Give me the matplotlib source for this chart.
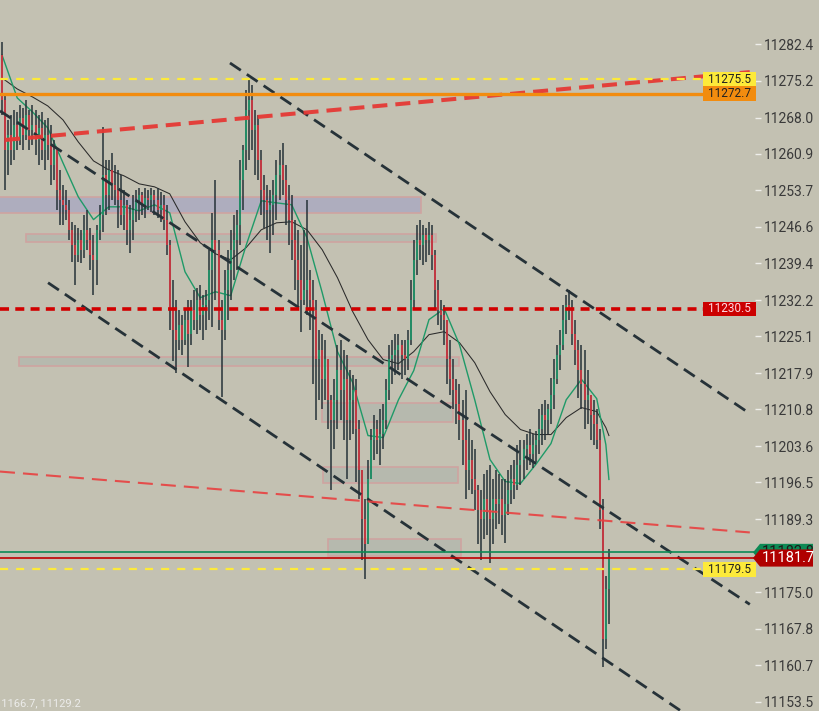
import matplotlib
matplotlib.use('Agg')
import matplotlib.pyplot as plt
from matplotlib.patches import Rectangle, Polygon
import numpy as np

plt.rcParams['font.family'] = ['Roboto', 'DejaVu Sans']
plt.rcParams['lines.scale_dashes'] = False

# ---------------- data ----------------
first_open = 11280.2
highs = [
    11282.8, 11272.4, 11267.5, 11268.5, 11269.5, 11269.1, 11270.5, 11269.9, 11271.4, 11269.5,
    11270.5, 11269.5, 11268.5, 11269.1, 11267.5, 11267.9, 11266.6, 11263.6, 11261.7, 11257.7,
    11254.8, 11253.8, 11251.9, 11247.6, 11247.0, 11246.4, 11246.0, 11248.9, 11249.9, 11246.4,
    11245.0, 11247.0, 11250.9, 11266.2, 11259.7, 11259.7, 11261.1, 11258.7, 11257.7, 11256.8,
    11253.8, 11251.9, 11250.9, 11252.8, 11253.8, 11254.2, 11253.4, 11254.2, 11253.8, 11254.2,
    11253.8, 11254.2, 11253.4, 11252.8, 11250.9, 11244.0, 11236.2, 11232.3, 11230.3, 11229.4,
    11230.3, 11232.3, 11232.3, 11234.3, 11234.6, 11235.2, 11233.3, 11234.3, 11242.1, 11249.3,
    11255.8, 11244.0, 11232.3, 11238.2, 11242.1, 11246.0, 11248.9, 11249.9, 11259.7, 11262.6,
    11273.4, 11275.4, 11274.4, 11269.5, 11268.5, 11261.7, 11256.8, 11254.8, 11253.8, 11255.8,
    11259.7, 11261.7, 11263.0, 11258.7, 11254.8, 11252.8, 11248.0, 11246.0, 11243.1, 11246.0,
    11251.9, 11238.2, 11236.2, 11232.3, 11226.4, 11225.5, 11224.5, 11220.6, 11213.7, 11216.7,
    11223.5, 11224.5, 11222.5, 11221.5, 11218.6, 11217.6, 11216.7, 11208.8, 11199.0, 11193.2,
    11201.0, 11206.9, 11209.8, 11208.8, 11210.8, 11211.8, 11216.7, 11223.5, 11224.5, 11225.5,
    11225.5, 11224.5, 11224.5, 11226.4, 11236.2, 11244.0, 11247.0, 11248.0, 11247.0, 11246.4,
    11247.6, 11247.0, 11242.1, 11236.2, 11232.3, 11231.3, 11228.4, 11224.5, 11220.6, 11216.7,
    11215.7, 11212.7, 11214.7, 11206.9, 11204.9, 11203.0, 11196.1, 11195.1, 11198.1, 11199.0,
    11200.0, 11197.1, 11199.0, 11198.1, 11197.1, 11197.1, 11199.0, 11200.0, 11201.0, 11203.9,
    11204.9, 11204.9, 11205.9, 11206.9, 11205.9, 11206.5, 11210.8, 11211.8, 11212.7, 11211.8,
    11217.0, 11220.6, 11223.5, 11226.4, 11231.3, 11233.3, 11234.3, 11232.3, 11228.4, 11224.5,
    11223.5, 11222.5, 11218.6, 11213.7, 11212.7, 11210.8, 11206.9, 11193.2, 11178.1, 11183.4,
]
lows = [
    11268.5, 11253.8, 11256.8, 11258.7, 11259.7, 11261.7, 11262.6, 11261.7, 11263.6, 11261.7,
    11262.6, 11260.7, 11258.7, 11259.7, 11257.7, 11259.7, 11254.8, 11255.8, 11249.9, 11247.0,
    11247.0, 11248.0, 11244.0, 11239.7, 11235.2, 11239.7, 11239.5, 11240.5, 11242.1, 11238.2,
    11233.3, 11235.2, 11244.0, 11245.6, 11248.9, 11249.9, 11251.9, 11250.9, 11246.4, 11247.0,
    11246.0, 11243.1, 11241.5, 11244.0, 11247.6, 11248.0, 11248.9, 11248.3, 11249.9, 11249.5,
    11248.9, 11248.3, 11247.6, 11246.0, 11241.1, 11226.4, 11220.2, 11218.0, 11222.5, 11221.5,
    11223.5, 11219.2, 11223.5, 11226.4, 11225.5, 11226.4, 11224.5, 11226.4, 11228.4, 11227.0,
    11232.3, 11226.4, 11213.3, 11224.5, 11228.4, 11232.3, 11236.2, 11238.2, 11243.1, 11249.9,
    11257.7, 11259.7, 11261.7, 11256.8, 11255.8, 11248.9, 11246.4, 11244.0, 11241.5, 11245.0,
    11248.0, 11251.9, 11252.8, 11247.0, 11243.1, 11240.1, 11234.3, 11230.3, 11226.0, 11231.3,
    11229.4, 11226.4, 11215.7, 11208.8, 11212.7, 11210.8, 11212.7, 11206.9, 11195.1, 11203.0,
    11206.9, 11208.8, 11204.9, 11197.1, 11204.9, 11205.9, 11196.5, 11193.2, 11181.4, 11177.5,
    11184.4, 11197.1, 11201.0, 11202.0, 11200.0, 11203.0, 11206.9, 11212.7, 11215.7, 11217.6,
    11218.6, 11216.7, 11217.6, 11218.6, 11223.5, 11230.3, 11237.2, 11240.1, 11239.2, 11239.7,
    11241.1, 11238.2, 11230.3, 11227.4, 11226.4, 11223.5, 11215.7, 11213.7, 11210.8, 11207.9,
    11204.9, 11200.0, 11193.2, 11195.1, 11194.2, 11191.2, 11184.4, 11181.4, 11185.4, 11186.3,
    11180.8, 11184.4, 11187.3, 11188.3, 11186.3, 11184.7, 11190.2, 11192.2, 11193.2, 11195.1,
    11196.1, 11197.1, 11199.0, 11200.0, 11199.4, 11200.6, 11202.0, 11203.9, 11204.9, 11205.9,
    11207.9, 11210.8, 11215.7, 11218.6, 11222.5, 11225.5, 11228.4, 11223.5, 11219.6, 11213.1,
    11210.8, 11206.9, 11207.9, 11204.9, 11203.9, 11203.0, 11187.3, 11160.3, 11163.8, 11168.7,
]
closes = [
    11271.4, 11261.7, 11264.6, 11261.7, 11266.6, 11263.6, 11267.9, 11264.6, 11268.5, 11265.6,
    11266.6, 11263.6, 11266.0, 11261.7, 11264.6, 11262.6, 11258.7, 11261.7, 11253.8, 11251.9,
    11250.9, 11249.9, 11246.0, 11243.1, 11241.1, 11244.0, 11242.1, 11246.0, 11244.0, 11241.1,
    11240.1, 11246.0, 11248.9, 11256.8, 11252.8, 11257.7, 11254.8, 11253.8, 11251.9, 11248.9,
    11250.9, 11246.0, 11248.0, 11249.9, 11251.9, 11252.8, 11250.9, 11252.3, 11251.9, 11252.8,
    11251.9, 11249.9, 11250.9, 11248.0, 11243.1, 11230.3, 11226.4, 11224.5, 11227.4, 11224.5,
    11228.4, 11225.5, 11230.3, 11228.4, 11232.3, 11229.4, 11231.3, 11232.3, 11238.2, 11244.0,
    11242.1, 11228.4, 11226.4, 11234.3, 11238.2, 11242.1, 11244.0, 11247.0, 11255.8, 11261.7,
    11269.5, 11271.4, 11265.6, 11266.6, 11259.7, 11253.8, 11251.9, 11249.9, 11250.9, 11252.8,
    11256.8, 11258.7, 11255.8, 11251.9, 11248.0, 11244.0, 11240.1, 11236.2, 11232.3, 11234.3,
    11236.2, 11232.3, 11230.3, 11220.6, 11222.5, 11216.7, 11220.6, 11212.7, 11208.8, 11212.7,
    11218.6, 11214.7, 11216.7, 11208.8, 11212.7, 11214.7, 11206.9, 11199.0, 11189.3, 11184.4,
    11197.1, 11204.9, 11206.9, 11204.9, 11205.9, 11208.8, 11214.7, 11220.6, 11221.5, 11222.5,
    11223.5, 11221.5, 11220.6, 11224.5, 11232.3, 11240.1, 11244.0, 11243.1, 11245.0, 11244.0,
    11245.0, 11241.1, 11234.3, 11230.3, 11229.4, 11228.4, 11220.6, 11216.7, 11214.7, 11211.8,
    11208.8, 11204.9, 11199.0, 11201.0, 11197.1, 11195.1, 11191.2, 11189.3, 11193.2, 11191.2,
    11189.3, 11193.2, 11192.2, 11193.2, 11190.2, 11192.2, 11195.1, 11197.1, 11196.1, 11200.0,
    11201.0, 11203.0, 11203.9, 11202.0, 11203.9, 11204.9, 11206.9, 11209.8, 11208.8, 11210.8,
    11213.7, 11216.7, 11221.5, 11223.5, 11228.4, 11231.3, 11230.3, 11225.5, 11222.5, 11218.6,
    11215.7, 11212.7, 11213.7, 11209.8, 11207.9, 11204.9, 11191.2, 11165.8, 11175.6, 11181.7,
]

# moving averages (bar index, value)
ma_idx = [0, 5, 10, 15, 20, 25, 30, 35, 40, 45, 50, 55, 60, 65, 70, 75, 80, 85, 90, 95,
          100, 105, 110, 115, 120, 125, 130, 135, 140, 145, 150, 155, 160, 165, 170, 175,
          180, 185, 190, 195, 198, 199]
ma_fast = [11280.25, 11271.83, 11269.09, 11265.96, 11259.11, 11252.46, 11248.0, 11250.5,
           11250.5, 11249.72, 11250.9, 11249.33, 11237.78, 11232.69, 11233.87, 11233.09,
           11242.87, 11251.68, 11251.28, 11250.9, 11244.44, 11233.67, 11222.13, 11216.06,
           11205.69, 11205.3, 11212.7, 11218.41, 11228.4, 11230.54, 11223.5, 11212.7,
           11201.0, 11196.69, 11196.3, 11200.0, 11204.12, 11212.7, 11216.7, 11212.93,
           11203.9, 11197.1]
ma_slow = [11275.75, 11273.59, 11272.03, 11270.27, 11267.53, 11263.22, 11259.5, 11257.74,
           11256.57, 11255.0, 11254.42, 11253.05, 11247.57, 11243.46, 11241.3, 11240.13,
           11242.48, 11246.0, 11247.37, 11247.57, 11246.0, 11242.09, 11236.61, 11229.96,
           11224.48, 11220.57, 11219.78, 11222.13, 11225.46, 11226.04, 11223.89, 11219.97,
           11214.3, 11209.8, 11206.87, 11205.89, 11205.89, 11209.21, 11211.17, 11210.39,
           11207.25, 11205.69]

# supply / demand zones: left bar, right bar, top, bottom
zone_left = [-1.0, 7.9, 5.6, 104.9, 105.2, 106.9]
zone_right = [137.4, 142.3, 149.8, 147.9, 149.5, 150.5]
zone_top = [11252.5, 11245.2, 11221.0, 11212.0, 11199.6, 11185.5]
zone_bottom = [11249.3, 11243.7, 11219.4, 11208.4, 11196.3, 11182.0]
zone_face = ['#aeadbe', '#b6b9ae', '#b6b9ae', '#b6b9ae', '#b6b9ae', '#b6b9ae']

# trend lines: (bar, price) pairs
trend_red_x, trend_red_y = [1.0, 245.2], [11263.6, 11276.9]
trend_thin_x, trend_thin_y = [-0.66, 245.2], [11198.64, 11186.71]
chan_up_x, chan_up_y = [74.75, 245.2], [11278.68, 11210.0]
chan_mid_x, chan_mid_y = [-0.66, 245.2], [11269.29, 11172.62]
chan_low_x, chan_low_y = [15.1, 222.3], [11235.63, 11151.87]

# horizontal levels
lvl_yellow_top = 11275.5
lvl_orange = 11272.7
lvl_darkred = 11230.5
lvl_yellow_low = 11179.5
lvl_green = 11182.8
lvl_last = 11181.7

ytick_vals = [11282.4, 11275.2, 11268.0, 11260.9, 11253.7, 11246.6, 11239.4, 11232.2,
              11225.1, 11217.9, 11210.8, 11203.6, 11196.5, 11189.3, 11175.0, 11167.8,
              11160.7, 11153.5]
ytick_labels = ['11282.4', '11275.2', '11268.0', '11260.9', '11253.7', '11246.6', '11239.4',
                '11232.2', '11225.1', '11217.9', '11210.8', '11203.6', '11196.5', '11189.3',
                '11175.0', '11167.8', '11160.7', '11153.5']

# ---------------- drawing ----------------
BG = '#c3c1b2'
DARK = '#263238'
UP = '#1a9e6c'
DOWN = '#e5323e'

fig = plt.figure(figsize=(8.2, 7.11), dpi=100, facecolor=BG)
ax = fig.add_axes([0, 0, 755 / 820, 1])
ax.set_facecolor(BG)
ax.set_xlim(-0.656, 246.9)
ax.set_ylim(11151.73, 11291.02)
for s in ax.spines.values():
    s.set_visible(False)
ax.xaxis.set_visible(False)
ax.yaxis.tick_right()
ax.set_yticks(ytick_vals)
ax.set_yticklabels(ytick_labels)
ax.tick_params(axis='y', direction='out', length=4, width=1, colors='#eeeeea',
               labelcolor='#3a3a3a', labelsize=10, pad=2.5)

# zones
for x0, x1, t, b, fc in zip(zone_left, zone_right, zone_top, zone_bottom, zone_face):
    ax.add_patch(Rectangle((x0, b), x1 - x0, t - b, facecolor=fc, edgecolor='#cfa4a0',
                           linewidth=1.2, zorder=1))

# moving averages
ax.plot(ma_idx, ma_slow, color='#2a2a2a', linewidth=0.75, zorder=3)
ax.plot(ma_idx, ma_fast, color='#1f9a68', linewidth=1.0, zorder=3)

# candles
n = len(closes)
idx = np.arange(n)
c = np.array(closes)
o = np.array([first_open] + closes[:-1])
h = np.maximum(np.array(highs), np.maximum(o, c))
l = np.minimum(np.array(lows), np.minimum(o, c))
ax.vlines(idx, l, h, color=DARK, linewidth=1.1, zorder=4)
col = np.where(c >= o, UP, DOWN)
ax.vlines(idx, np.minimum(o, c), np.maximum(o, c), colors=col, linewidth=1.1, zorder=5)

# trend lines
ax.plot(chan_up_x, chan_up_y, color=DARK, linewidth=2.0, dashes=(9.4, 5.2), zorder=6)
ax.plot(chan_mid_x, chan_mid_y, color=DARK, linewidth=2.0, dashes=(9.4, 5.2), zorder=6)
ax.plot(chan_low_x, chan_low_y, color=DARK, linewidth=2.0, dashes=(9.4, 5.2), zorder=6)
ax.plot(trend_red_x, trend_red_y, color='#e53935', linewidth=2.9, dashes=(10.8, 5.8),
        alpha=0.95, zorder=6)
ax.plot(trend_thin_x, trend_thin_y, color='#e84040', linewidth=1.5, dashes=(10.8, 5.8),
        alpha=0.9, zorder=6)

# horizontal levels
xend = 703 / 755
ax.axhline(lvl_orange, xmin=0, xmax=xend, color='#f28c0f', linewidth=2.4, zorder=6)
ax.axhline(lvl_yellow_top, xmin=0, xmax=xend, color='#fdea3a', linewidth=1.6,
           dashes=(5.8, 5.8), zorder=6)
ax.axhline(lvl_darkred, xmin=0, xmax=xend, color='#d10000', linewidth=2.6,
           dashes=(6.5, 4.5), zorder=6)
ax.axhline(lvl_yellow_low, xmin=0, xmax=xend, color='#fdea3a', linewidth=1.6,
           dashes=(5.8, 5.8), zorder=6)
ax.axhline(lvl_green, color='#0d8a55', linewidth=1.2, zorder=6)
ax.axhline(lvl_last, color='#c00000', linewidth=1.2, zorder=6)

# level labels inside plot
ytr = ax.get_yaxis_transform()
box_w = 53 / 755
box_h = 2.9
for val, fc, tc in [(lvl_yellow_top, '#fdea3a', '#222222'),
                    (lvl_orange, '#f28c0f', '#222222'),
                    (lvl_darkred, '#cc0000', '#ffd8e0'),
                    (lvl_yellow_low, '#fdea3a', '#222222')]:
    ax.add_patch(Rectangle((xend, val - box_h / 2), box_w, box_h, transform=ytr,
                           facecolor=fc, edgecolor='none', zorder=8, clip_on=False))
    ax.text(xend + box_w / 2, val, f'{val:.1f}', transform=ytr, ha='center', va='center',
            fontsize=8.5, color=tc, zorder=9)

# price labels on axis (arrow shaped)
def arrow_label(val, fc, tc, fs, z):
    x0 = 753 / 755
    xt = 760 / 755
    x1 = 813 / 755
    hh = 1.68
    pts = [(x0, val), (xt, val + hh), (x1, val + hh), (x1, val - hh), (xt, val - hh)]
    ax.add_patch(Polygon(pts, closed=True, transform=ytr, facecolor=fc, edgecolor='none',
                         zorder=z, clip_on=False))
    ax.text((xt + x1) / 2 + 0.002, val, f'{val:.1f}', transform=ytr, ha='center',
            va='center', fontsize=fs, color=tc, zorder=z + 0.5, clip_on=False)

arrow_label(lvl_green, '#0d8a55', '#1a1a1a', 10.5, 10)
arrow_label(lvl_last, '#b00000', '#ffffff', 10.5, 11)

fig.text(-0.006, 0.004, '11166.7, 11129.2', fontsize=8, color='#ececea', ha='left',
         va='bottom')

fig.savefig('out.png', dpi=100, facecolor=BG)
